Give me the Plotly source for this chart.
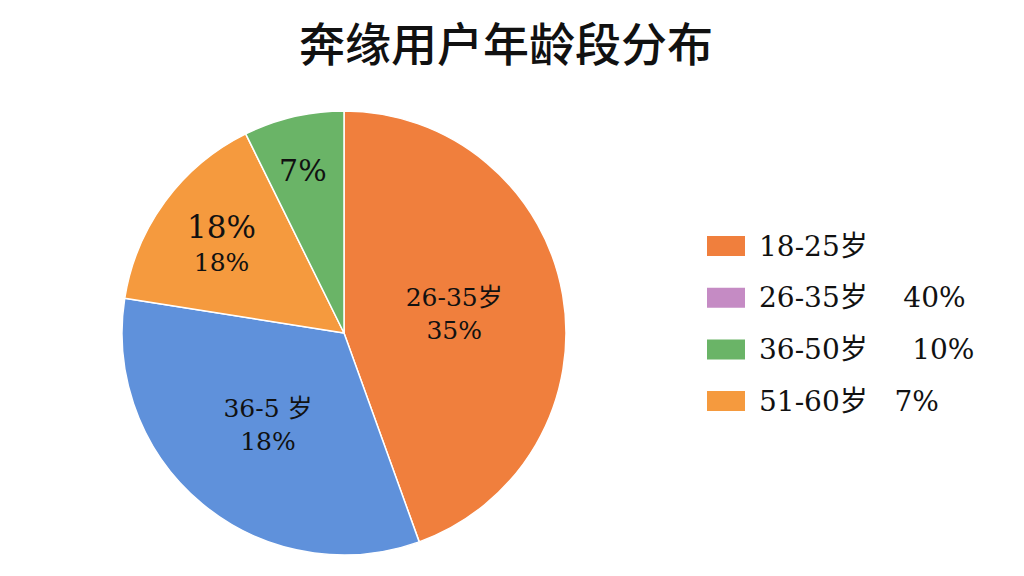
import plotly.graph_objects as go

# slice data
slice_names = ["26-35岁", "36-5 岁", "18%", "7%"]
slice_values = [44.5, 33.0, 15.2, 7.3]
slice_text = [
    "26-35岁<br>35%",
    "36-5 岁<br>18%",
    "<span style='font-size:31px'>18%</span><br>18%",
    " <br><span style='font-size:30px'>7%</span>",
]
slice_colors = ["#F07F3D", "#5F91DB", "#F59A3E", "#6AB467"]

# legend entries
legend_labels = ["18-25岁", "26-35岁", "36-50岁", "51-60岁"]
legend_pcts = ["", "40%", "10%", "7%"]
legend_colors = ["#F07F3D", "#C58BC4", "#6AB467", "#F59A3E"]

# page is drawn with an 8px body margin, so shift positions to compensate
W, H, OFF = 1024, 576, 8


def px_x(x):
    return (x - OFF) / W


def px_y(y):
    return 1 - (y - OFF) / H


fig = go.Figure()

fig.add_trace(go.Pie(
    labels=slice_names,
    values=slice_values,
    text=slice_text,
    textinfo="text",
    textposition="inside",
    insidetextorientation="horizontal",
    textfont=dict(family="DejaVu Serif, Noto Sans CJK SC", size=25, color="#111111"),
    marker=dict(colors=slice_colors, line=dict(color="white", width=1.5)),
    sort=False,
    direction="clockwise",
    rotation=0,
    showlegend=False,
    hoverinfo="none",
    domain=dict(x=[px_x(122), px_x(566)], y=[px_y(555), px_y(111)]),
))

# hand-made legend
shapes = []
annotations = []
gaps = [0, 4, 5, 3]
for i, (lab, pct, col) in enumerate(zip(legend_labels, legend_pcts, legend_colors)):
    yc = px_y(246 + i * 51.7)
    shapes.append(dict(
        type="rect", xref="paper", yref="paper",
        x0=px_x(707), x1=px_x(745), y0=yc - 10 / H, y1=yc + 10 / H,
        fillcolor=col, line=dict(width=0),
    ))
    txt = lab + ("&nbsp;" * gaps[i] + pct if pct else "")
    annotations.append(dict(
        xref="paper", yref="paper", x=px_x(757), y=yc,
        xanchor="left", yanchor="middle", showarrow=False,
        text=txt,
        font=dict(family="DejaVu Serif, Noto Sans CJK SC", size=28, color="#111111"),
    ))

fig.update_layout(
    width=W, height=H,
    paper_bgcolor="white", plot_bgcolor="white",
    margin=dict(l=0, r=0, t=0, b=0),
    uniformtext=dict(minsize=25, mode="show"),
    title=dict(
        text="奔缘用户年龄段分布",
        x=px_x(506), xanchor="center", y=px_y(45), yanchor="middle",
        font=dict(family="Noto Sans CJK SC", size=46, color="#111111", weight=500),
    ),
    shapes=shapes,
    annotations=annotations,
)

fig.write_html("out.html")
